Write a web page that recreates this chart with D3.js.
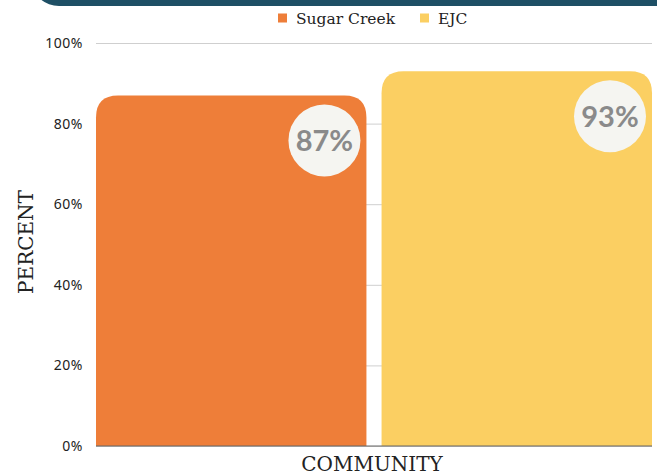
<!DOCTYPE html>
<html>
<head>
<meta charset="utf-8">
<script src="https://cdn.jsdelivr.net/npm/d3@7"></script>
<style>
  body { margin: 0; background: #fff; }
  .tick text { font-family: "Noto Sans", sans-serif; font-size: 14px; fill: #222; letter-spacing: 0.5px; }
  .tick line { stroke: #cfcfcf; }
</style>
</head>
<body>
<script>
// chart data
var series = ["Sugar Creek", "EJC"];
var values = [87, 93];
var colors = ["#EE7E39", "#FBCF62"];
var tickValues = [0, 20, 40, 60, 80, 100];
var tickLabels = ["0%", "20%", "40%", "60%", "80%", "100%"];

var svgWidth = 657, svgHeight = 476;
var margin = { top: 43, right: 5, bottom: 30, left: 96 };
var width = svgWidth - margin.left - margin.right;
var height = svgHeight - margin.top - margin.bottom;

var svg = d3.select("body").append("svg")
    .attr("width", svgWidth)
    .attr("height", svgHeight);

// dark banner at the top
svg.append("rect")
    .attr("x", 33).attr("y", -40)
    .attr("width", 650).attr("height", 46)
    .attr("rx", 26)
    .attr("fill", "#1E4F65");

var chartGroup = svg.append("g").attr("transform", `translate(${margin.left}, ${margin.top})`);

var xScale = d3.scaleBand().domain(series).range([0, width]).paddingInner(0.053).paddingOuter(0);
var yScale = d3.scaleLinear().domain([0, 100]).range([height, 0]);

// grid + tick labels
var yAxis = d3.axisLeft(yScale)
    .tickValues(tickValues)
    .tickFormat((d, i) => tickLabels[i])
    .tickSize(-width)
    .tickPadding(13);
var gy = chartGroup.append("g").call(yAxis);
gy.select(".domain").remove();

// bars with rounded top corners
function topRounded(x, y, w, h, r) {
    return `M${x},${y + h}V${y + r}Q${x},${y} ${x + r},${y}H${x + w - r}Q${x + w},${y} ${x + w},${y + r}V${y + h}Z`;
}

chartGroup.selectAll(".bar")
    .data(values)
    .enter()
    .append("path")
    .attr("class", "bar")
    .attr("d", (d, i) => topRounded(xScale(series[i]), yScale(d), xScale.bandwidth(), height - yScale(d), 22))
    .attr("fill", (d, i) => colors[i]);

// baseline
chartGroup.append("line")
    .attr("x1", 0).attr("x2", width)
    .attr("y1", height).attr("y2", height)
    .attr("stroke", "#666").attr("stroke-width", 1);

// value badges
var badges = chartGroup.selectAll(".badge")
    .data(values)
    .enter()
    .append("g")
    .attr("class", "badge")
    .attr("transform", (d, i) => `translate(${xScale(series[i]) + xScale.bandwidth() - 42}, ${yScale(d) + 45})`);

badges.append("circle").attr("r", 36).attr("fill", "#F5F5F1");
badges.append("text")
    .text(d => d + "%")
    .attr("text-anchor", "middle")
    .attr("dy", "0.36em")
    .attr("font-family", "Lato, sans-serif")
    .attr("font-weight", "bold")
    .attr("font-size", 29)
    .attr("fill", "#8A8A8A");

// legend
var legend = svg.append("g").attr("transform", "translate(278, 18)");
var legendX = [0, 142];
series.forEach(function(s, i) {
    var item = legend.append("g").attr("transform", `translate(${legendX[i]}, 0)`);
    item.append("rect").attr("x", 0).attr("y", -4.5).attr("width", 9).attr("height", 9).attr("fill", colors[i]);
    item.append("text").attr("x", 18).attr("y", 5.5)
        .attr("font-family", "DejaVu Serif, serif").attr("font-size", 15.5).attr("fill", "#222")
        .text(s);
});

// axis titles
svg.append("text")
    .attr("transform", "translate(33, 242) rotate(-90)")
    .attr("text-anchor", "middle")
    .attr("font-family", "DejaVu Serif, serif").attr("font-size", 20).attr("fill", "#222")
    .text("PERCENT");

svg.append("text")
    .attr("x", 372).attr("y", 471)
    .attr("text-anchor", "middle")
    .attr("font-family", "DejaVu Serif, serif").attr("font-size", 20).attr("fill", "#222")
    .text("COMMUNITY");
</script>
</body>
</html>
